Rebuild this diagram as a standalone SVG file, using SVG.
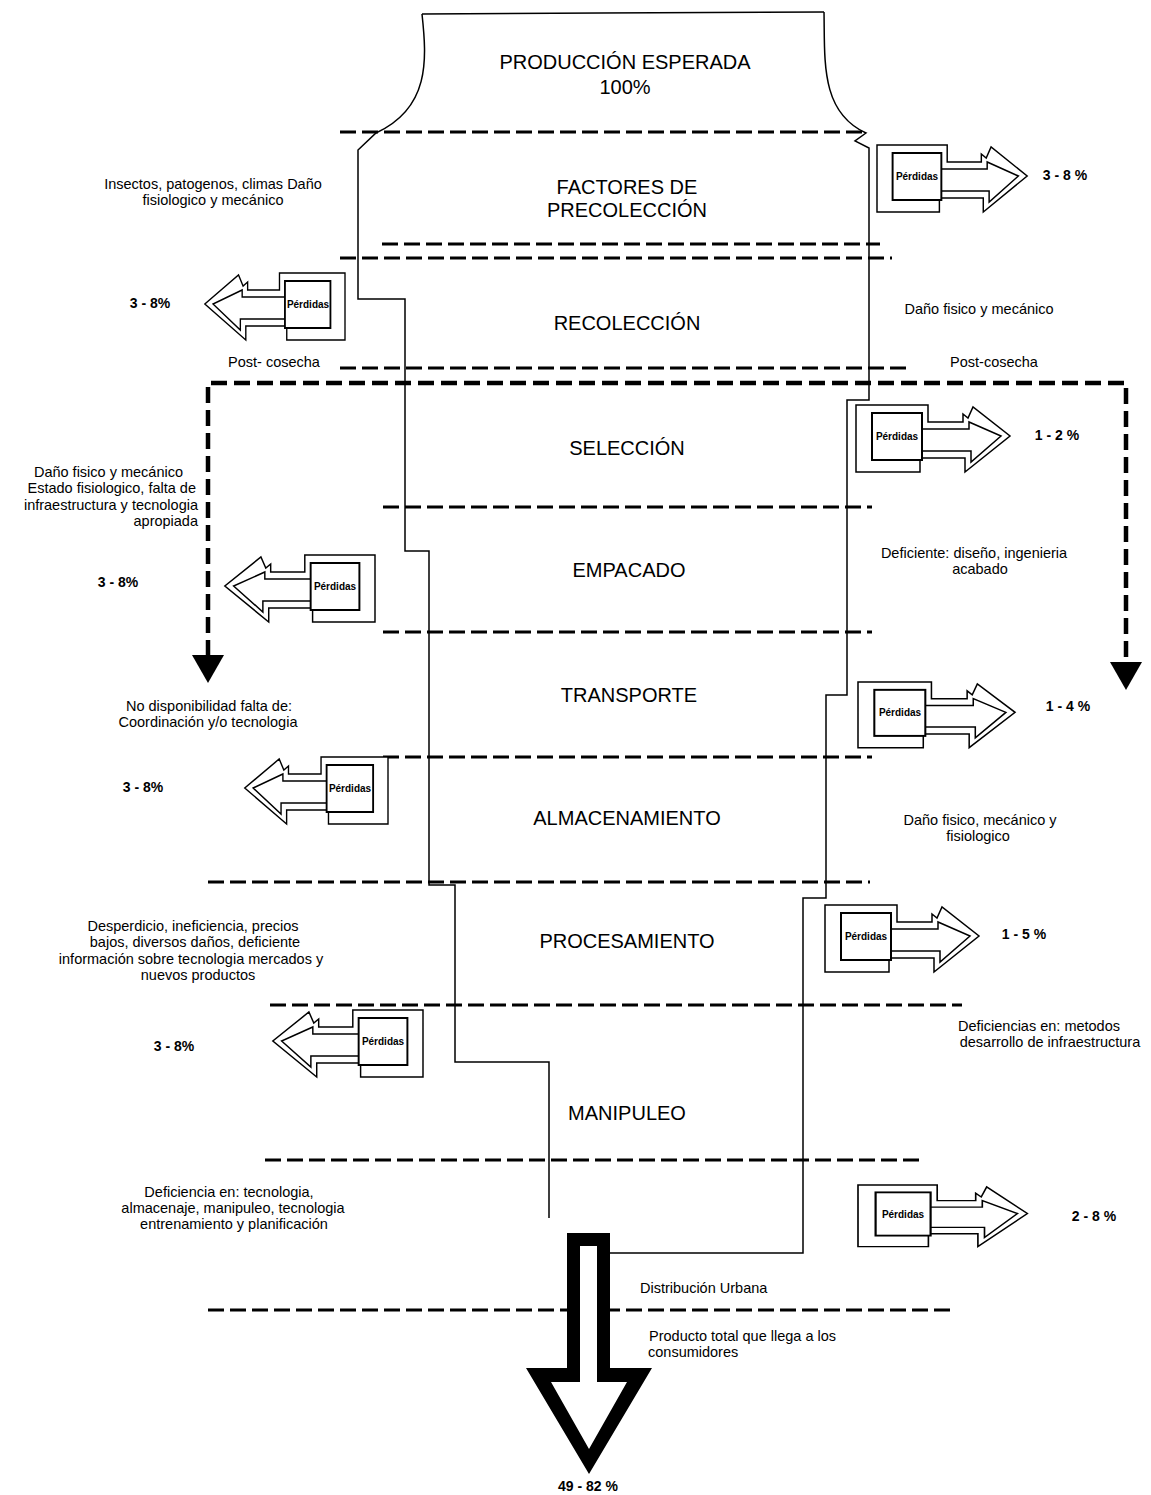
<svg xmlns="http://www.w3.org/2000/svg" width="1151" height="1495" viewBox="0 0 1151 1495">
<defs>
<style>
.stage{font-family:"Liberation Sans",Arial,sans-serif;font-size:20px;text-anchor:middle;fill:#000}
.note{font-family:"Liberation Sans",Arial,sans-serif;font-size:14.5px;fill:#000}
.mid{text-anchor:middle}
.end{text-anchor:end}
.pct{font-family:"Liberation Sans",Arial,sans-serif;font-size:14px;font-weight:bold;fill:#000;text-anchor:middle}
.perd{font-family:"Liberation Sans",Arial,sans-serif;font-size:10px;font-weight:bold;text-anchor:middle;fill:#000}
.dash{stroke:#000;stroke-width:2.8;stroke-dasharray:16 6;fill:none}
.bracket{stroke:#000;stroke-width:4.5;stroke-dasharray:16 7;fill:none}
.outline{fill:none;stroke:#000;stroke-width:1.5}
</style>
<g id="loss">
 <path d="M0,0 H72 V17 H107 V9 L112,13 L117,2 L154,31 L109,67 V53 H64 V67 H0 Z" fill="#fff" stroke="#000" stroke-width="1.5"/>
 <path d="M66,24 H113 V17 L145,31 L115,57 V46 H66" fill="none" stroke="#000" stroke-width="1.5"/>
 <rect x="16" y="8" width="50" height="47" fill="#fff" stroke="#000" stroke-width="2"/>
</g>
</defs>
<rect width="1151" height="1495" fill="#fff"/>

<g id="connectors">
 <line class="dash" x1="340" y1="132" x2="866" y2="132"/>
 <line class="dash" x1="382" y1="244" x2="880" y2="244"/>
 <line class="dash" x1="340" y1="258" x2="892" y2="258"/>
 <line class="dash" x1="340" y1="368" x2="908" y2="368"/>
 <line class="dash" x1="383" y1="507" x2="872" y2="507"/>
 <line class="dash" x1="383" y1="632" x2="872" y2="632"/>
 <line class="dash" x1="383" y1="757" x2="872" y2="757"/>
 <line class="dash" x1="208" y1="882" x2="870" y2="882"/>
 <line class="dash" x1="270" y1="1005" x2="962" y2="1005"/>
 <line class="dash" x1="265" y1="1160" x2="922" y2="1160"/>
 <line class="dash" x1="208" y1="1310" x2="950" y2="1310"/>
 <path class="bracket" d="M208,656 V383 H1126 V663"/>
 <polygon points="192,655 224,655 208,683" fill="#000"/>
 <polygon points="1110,662 1142,662 1126,690" fill="#000"/>
</g>

<g id="funnel">
 <path class="outline" d="M422,14 C427,60 430,108 376,133 L358,150 V299 H405 V551 H429 V885 H455 V1062 H549 V1218"/>
 <path class="outline" d="M422,14 L600,13 L824,12"/>
 <path class="outline" d="M824,12 C825,60 820,112 866,133 L855,141 L869,148 V400 H847 V695 H826 V898 H803 V1253 H609"/>
</g>

<g id="stage-produccion"><text class="stage" x="625" y="69">PRODUCCIÓN ESPERADA</text><text class="stage" x="625" y="94">100%</text></g>
<g id="stage-precoleccion"><text class="stage" x="627" y="194">FACTORES DE</text><text class="stage" x="627" y="217">PRECOLECCIÓN</text></g>
<g id="stage-recoleccion"><text class="stage" x="627" y="330">RECOLECCIÓN</text></g>
<g id="stage-seleccion"><text class="stage" x="627" y="455">SELECCIÓN</text></g>
<g id="stage-empacado"><text class="stage" x="629" y="577">EMPACADO</text></g>
<g id="stage-transporte"><text class="stage" x="629" y="702">TRANSPORTE</text></g>
<g id="stage-almacenamiento"><text class="stage" x="627" y="825">ALMACENAMIENTO</text></g>
<g id="stage-procesamiento"><text class="stage" x="627" y="948">PROCESAMIENTO</text></g>
<g id="stage-manipuleo"><text class="stage" x="627" y="1120">MANIPULEO</text></g>

<g id="loss-1"><use href="#loss" transform="translate(877,145) scale(0.975,1)"/><text class="perd" x="917" y="180">Pérdidas</text></g>
<g id="loss-2"><use href="#loss" transform="translate(345,273) scale(-0.91,1)"/><text class="perd" x="308" y="308">Pérdidas</text></g>
<g id="loss-3"><use href="#loss" transform="translate(856,405)"/><text class="perd" x="897" y="440">Pérdidas</text></g>
<g id="loss-4"><use href="#loss" transform="translate(375,555) scale(-0.975,1)"/><text class="perd" x="335" y="590">Pérdidas</text></g>
<g id="loss-5"><use href="#loss" transform="translate(858,682) scale(1.02,0.98)"/><text class="perd" x="900" y="716">Pérdidas</text></g>
<g id="loss-6"><use href="#loss" transform="translate(388,757) scale(-0.93,1)"/><text class="perd" x="350" y="792">Pérdidas</text></g>
<g id="loss-7"><use href="#loss" transform="translate(825,905)"/><text class="perd" x="866" y="940">Pérdidas</text></g>
<g id="loss-8"><use href="#loss" transform="translate(423,1010) scale(-0.975,1)"/><text class="perd" x="383" y="1045">Pérdidas</text></g>
<g id="loss-9"><use href="#loss" transform="translate(858,1185) scale(1.1,0.92)"/><text class="perd" x="903" y="1218">Pérdidas</text></g>

<g id="final-arrow">
 <path d="M567,1233 H610 V1368 H652 L589,1474 L526,1368 H567 Z" fill="#000"/>
 <path d="M580,1246 H597 V1382 H627 L589,1449 L551,1382 H580 Z" fill="#fff"/>
</g>

<g id="notes-left">
 <text class="note mid" x="213" y="189">Insectos, patogenos, climas Daño</text>
 <text class="note mid" x="213" y="205">fisiologico y mecánico</text>
 <text class="pct" x="150" y="308">3 - 8%</text>
 <text class="note mid" x="274" y="367">Post- cosecha</text>
 <text class="note end" x="183" y="477">Daño fisico y mecánico</text>
 <text class="note end" x="196" y="493">Estado fisiologico, falta de</text>
 <text class="note end" x="198" y="510">infraestructura y tecnologia</text>
 <text class="note end" x="198" y="526">apropiada</text>
 <text class="pct" x="118" y="587">3 - 8%</text>
 <text class="note mid" x="209" y="711">No disponibilidad falta de:</text>
 <text class="note mid" x="208" y="727">Coordinación y/o tecnologia</text>
 <text class="pct" x="143" y="792">3 - 8%</text>
 <text class="note mid" x="193" y="931">Desperdicio, ineficiencia, precios</text>
 <text class="note mid" x="195" y="947">bajos, diversos daños, deficiente</text>
 <text class="note mid" x="191" y="964">información sobre tecnologia mercados y</text>
 <text class="note mid" x="198" y="980">nuevos productos</text>
 <text class="pct" x="174" y="1051">3 - 8%</text>
 <text class="note mid" x="229" y="1197">Deficiencia en: tecnologia,</text>
 <text class="note mid" x="233" y="1213">almacenaje, manipuleo, tecnologia</text>
 <text class="note mid" x="234" y="1229">entrenamiento y planificación</text>
</g>

<g id="notes-right">
 <text class="pct" x="1065" y="180">3 - 8 %</text>
 <text class="note mid" x="979" y="314">Daño fisico y mecánico</text>
 <text class="note mid" x="994" y="367">Post-cosecha</text>
 <text class="pct" x="1057" y="440">1 - 2 %</text>
 <text class="note mid" x="974" y="558">Deficiente: diseño, ingenieria</text>
 <text class="note mid" x="980" y="574">acabado</text>
 <text class="pct" x="1068" y="711">1 - 4 %</text>
 <text class="note mid" x="980" y="825">Daño fisico, mecánico y</text>
 <text class="note mid" x="978" y="841">fisiologico</text>
 <text class="pct" x="1024" y="939">1 - 5 %</text>
 <text class="note mid" x="1039" y="1031">Deficiencias en: metodos</text>
 <text class="note mid" x="1050" y="1047">desarrollo de infraestructura</text>
 <text class="pct" x="1094" y="1221">2 - 8 %</text>
 <text class="note" x="640" y="1293">Distribución Urbana</text>
 <text class="note" x="649" y="1341">Producto total que llega a los</text>
 <text class="note" x="648" y="1357">consumidores</text>
 <text class="pct" x="588" y="1491">49 - 82 %</text>
</g>
</svg>
